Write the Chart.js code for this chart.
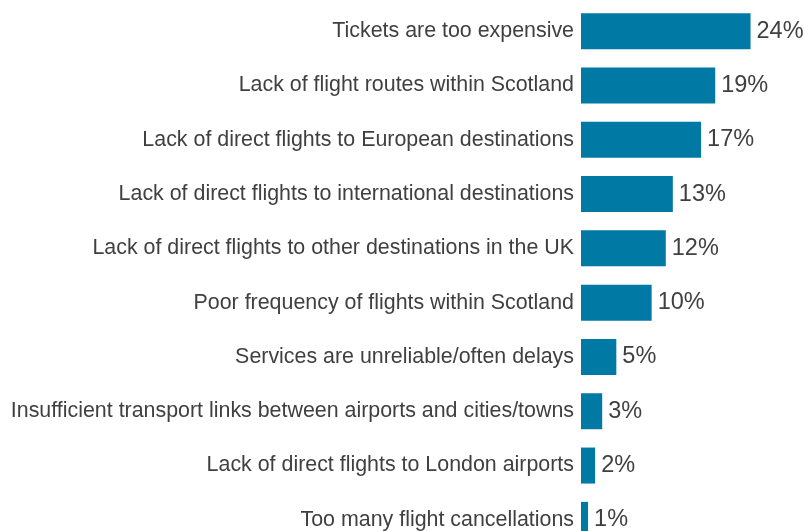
<!DOCTYPE html>
<html>
<head>
<meta charset="utf-8">
<script src="https://cdn.jsdelivr.net/npm/chart.js@4/dist/chart.umd.min.js"></script>
<style>
  html, body { margin: 0; padding: 0; background: #fff; overflow: hidden; }
  #wrap { position: relative; width: 805px; height: 551px; }
</style>
</head>
<body>
<div id="wrap"><canvas id="chart"></canvas></div>
<script>
// reasons given, share of respondents (%)
var reasons = [
  "Tickets are too expensive",
  "Lack of flight routes within Scotland",
  "Lack of direct flights to European destinations",
  "Lack of direct flights to international destinations",
  "Lack of direct flights to other destinations in the UK",
  "Poor frequency of flights within Scotland",
  "Services are unreliable/often delays",
  "Insufficient transport links between airports and cities/towns",
  "Lack of direct flights to London airports",
  "Too many flight cancellations"
];
var shares = [24, 19, 17, 13, 12, 10, 5, 3, 2, 1];

var textColour = "#404040";
var barColour = "#0079a4";
var fontFamily = "'Liberation Sans', Arial, sans-serif";

// writes the % next to the end of each bar
var valueLabels = {
  id: "valueLabels",
  afterDatasetsDraw: function(chart) {
    var ctx = chart.ctx;
    var meta = chart.getDatasetMeta(0);
    ctx.save();
    ctx.font = "23.5px " + fontFamily;
    ctx.fillStyle = textColour;
    ctx.textAlign = "left";
    ctx.textBaseline = "middle";
    meta.data.forEach(function(bar, i) {
      ctx.fillText(shares[i] + "%", bar.x + 6, bar.y);
    });
    ctx.restore();
  }
};

new Chart(document.getElementById("chart"), {
  type: "bar",
  data: {
    labels: reasons,
    datasets: [{
      data: shares,
      backgroundColor: barColour,
      borderWidth: 0,
      categoryPercentage: 1,
      barPercentage: 0.663
    }]
  },
  options: {
    indexAxis: "y",
    responsive: true,
    maintainAspectRatio: false,
    animation: false,
    layout: { padding: { top: 4, right: 5, bottom: 4, left: 0 } },
    plugins: {
      legend: { display: false },
      tooltip: { enabled: false }
    },
    scales: {
      x: {
        display: false,
        min: 0,
        max: 31
      },
      y: {
        grid: { display: false, drawTicks: false },
        border: { display: false },
        ticks: {
          color: textColour,
          padding: 7,
          font: { family: fontFamily, size: 21.4 }
        },
        afterFit: function(scale) {
          // fixed label column, no extra room for the end labels
          scale.width = 581;
          scale.paddingTop = 0;
          scale.paddingBottom = 0;
        }
      }
    }
  },
  plugins: [valueLabels]
});
</script>
</body>
</html>
